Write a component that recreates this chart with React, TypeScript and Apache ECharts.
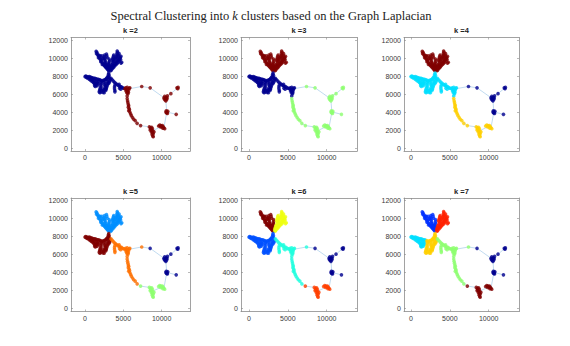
import React, { useEffect, useRef } from "react";
import * as echarts from "echarts";

// ---------------- data ----------------
const kValues = [2, 3, 4, 5, 6, 7];
const xTicks = [0, 5000, 10000];
const yTicks = [0, 2000, 4000, 6000, 8000, 10000, 12000];

type P = [number, number];

const topLeft: P[] = [
  [1450, 10750], [1550, 10650], [1500, 10500], [1650, 10450], [1700, 10300], [1800, 10200],
  [1750, 10050], [1900, 10000], [2000, 9850], [2100, 9750], [2050, 9600], [2200, 9550],
  [2300, 9450], [2250, 9300], [2400, 9300], [2500, 9200], [2600, 9100], [2700, 9000],
  [2800, 8900], [2900, 8800], [3000, 8700], [3100, 8600], [2550, 10350], [2500, 10150],
  [2600, 10000], [2550, 9850], [2650, 9700], [2600, 9550], [2700, 9450], [2750, 9300],
  [2850, 9200], [2950, 9050], [3050, 8950], [2350, 10000], [2250, 9900], [3150, 9900],
  [3200, 9700], [3100, 9550], [3150, 9400], [3050, 9300], [3150, 9150], [3200, 9000],
  [3150, 8850], [1900, 10300], [2000, 10200], [2200, 10250], [2800, 10450], [2850, 10250],
  [2900, 10050],
];

const topRight: P[] = [
  [4200, 10800], [4250, 10650], [4150, 10500], [4200, 10350], [4100, 10200], [4000, 10100],
  [3950, 9950], [3850, 9850], [3800, 9700], [3700, 9600], [3600, 9450], [3550, 9300],
  [3450, 9200], [3400, 9050], [3350, 8900], [3300, 8750], [4700, 10200], [4600, 10100],
  [4550, 9950], [4450, 9850], [4350, 9800], [4250, 9700], [4150, 9600], [4050, 9500],
  [3950, 9400], [3850, 9300], [3750, 9150], [3650, 9050], [3550, 8950], [3750, 10350],
  [3700, 10200], [3650, 10050], [3600, 9900], [3550, 9750], [4450, 10500], [4400, 10350],
  [4350, 10200], [4300, 10050], [4250, 9900], [4650, 9850], [4500, 9700], [4350, 9550],
  [4200, 9400], [4050, 9300], [3900, 9150], [3750, 9000], [3600, 8850], [3450, 8700],
  [3350, 8600], [4800, 9550], [4700, 9450],
];

const leftOuter: P[] = [
  [0, 7950], [100, 8000], [250, 7950], [400, 7900], [550, 7950], [700, 7900], [850, 7850],
  [1000, 7800], [1150, 7750], [1300, 7750], [1450, 7700], [1600, 7650], [1750, 7650],
  [1900, 7600], [300, 7800], [500, 7700], [650, 7600], [800, 7500], [950, 7400], [1100, 7300],
  [1200, 7200], [1300, 7100], [1250, 6950], [1350, 6850], [1000, 7600], [1200, 7500],
  [1400, 7450], [1550, 7350], [1650, 7250], [1750, 7150], [1500, 7150], [1450, 7000],
  [1600, 6950], [700, 7750], [900, 7650], [200, 7850], [1800, 7450],
];

const leftInner: P[] = [
  [3100, 8350], [3050, 8200], [3150, 8100], [3000, 8000], [3100, 7900], [2900, 7850],
  [2800, 7750], [2700, 7650], [2600, 7600], [2450, 7550], [2300, 7500], [2150, 7450],
  [2050, 7550], [2100, 7300], [2150, 7150], [2050, 7000], [2100, 6850], [2000, 6700],
  [1950, 6550], [1900, 6400], [1850, 6250], [1950, 6150], [2100, 6250], [2200, 6400],
  [2300, 6550], [2500, 7350], [2600, 7200], [2550, 7050], [2650, 6900], [2600, 6750],
  [2700, 6600], [2550, 6500], [2450, 6350], [2350, 6200], [2500, 6150], [2950, 7650],
  [2900, 7450], [3000, 7300], [2950, 7150], [2900, 7000], [2850, 6850], [2800, 6700],
  [2750, 6550], [2700, 6400], [3200, 7800], [3300, 7650], [3250, 7500], [3200, 7350],
  [3100, 7200],
];

const rightBranch: P[] = [
  [3400, 7750], [3550, 7600], [3700, 7450], [3850, 7300], [4000, 7200], [4150, 7100],
  [4300, 7000], [4450, 6900], [4600, 6850], [4750, 6800], [4900, 6700], [5050, 6650],
  [3900, 7000], [3850, 6800], [3850, 6600], [3900, 6400], [3900, 6250], [4450, 7100],
  [4500, 6650], [4650, 6550],
];

const junctionEnd: P[] = [
  [5200, 6600], [5300, 6700], [5400, 6500], [5350, 6350], [5500, 6400], [5600, 6550],
  [5700, 6450], [5550, 6250], [5650, 6200], [5450, 6150], [5750, 6650], [5850, 6700],
  [5500, 6750], [5600, 6050], [5500, 5800],
];

const ringLeft: P[] = [
  [5500, 5500], [5550, 5250], [5600, 5050], [5650, 4850], [5700, 4700], [5650, 4550],
  [5750, 4400], [5800, 4250], [5700, 4150], [5850, 4000], [5950, 3800], [6050, 3600],
  [6200, 3400], [6350, 3200],
];

const ringBottomLeft: P[] = [[6550, 3050], [6800, 2750]];
const ringBottomPoint: P[] = [[7250, 2500]];

const ringBottom: P[] = [
  [8400, 2350], [8550, 2250], [8700, 2300], [8600, 2100], [8800, 2150], [8700, 1950],
  [8850, 1900], [8650, 1800], [8800, 1700], [8900, 1600], [8750, 1500], [8850, 1350],
  [8900, 1250], [9000, 1800], [8500, 2000], [9600, 2450], [9750, 2550], [9900, 2500],
  [10000, 2400], [10100, 2500], [10200, 2350], [10300, 2250], [10150, 2200], [9850, 2350],
  [10400, 2150],
];

const ringTop: P[] = [[7400, 6850]];

const ringRight: P[] = [
  [8500, 6700], [10300, 5600], [10400, 5750], [10500, 5500], [10600, 5650], [10450, 5350],
  [10650, 5400], [10700, 5550], [10550, 5250], [10350, 5450], [10750, 5800], [11200, 6050],
  [12000, 6700], [12150, 6750], [12100, 6600], [10600, 4150], [10700, 4000], [10800, 4100],
  [10650, 3900], [10750, 3850], [10550, 4000], [11900, 3750],
];

// graph edges that show between the points: [x1, y1, x2, y2]
const edges: [number, number, number, number][] = [
  [5800, 6600, 7400, 6850], [7400, 6850, 8500, 6700], [8500, 6700, 10300, 5600],
  [10700, 5800, 11200, 6050], [11200, 6050, 12100, 6700], [10550, 5250, 10650, 4150],
  [10750, 4000, 11900, 3750], [10650, 3900, 10300, 2300], [10000, 2400, 9000, 2000],
  [7250, 2500, 8400, 2350], [6800, 2750, 7250, 2500], [6550, 3050, 6800, 2750],
  [6350, 3200, 6550, 3050], [5600, 6050, 5500, 5800], [5500, 5800, 5500, 5500],
  [5500, 5500, 5600, 5050], [5600, 5050, 5700, 4700], [5700, 4700, 5850, 4000],
  [5850, 4000, 6350, 3200],
];

const groupNames = [
  "topLeft", "topRight", "leftOuter", "leftInner", "rightBranch", "junctionEnd",
  "ringLeft", "ringBottomLeft", "ringBottomPoint", "ringBottom", "ringTop", "ringRight",
];
const groupPoints: Record<string, P[]> = {
  topLeft, topRight, leftOuter, leftInner, rightBranch, junctionEnd,
  ringLeft, ringBottomLeft, ringBottomPoint, ringBottom, ringTop, ringRight,
};

// cluster index of every group, for each k (same order as groupNames)
const clusterOf: Record<number, number[]> = {
  2: [0, 0, 0, 0, 0, 1, 1, 1, 1, 1, 1, 1],
  3: [2, 2, 0, 0, 0, 0, 1, 1, 1, 1, 1, 1],
  4: [3, 3, 1, 1, 1, 1, 2, 2, 2, 2, 0, 0],
  5: [1, 1, 4, 4, 3, 3, 3, 3, 2, 2, 3, 0],
  6: [5, 3, 1, 1, 2, 2, 2, 2, 4, 4, 2, 0],
  7: [1, 5, 2, 4, 3, 3, 3, 3, 6, 6, 3, 0],
};

// jet colormap colours used for each k
const palettes: Record<number, string[]> = {
  2: ["#00008F", "#800000"],
  3: ["#00008F", "#8FFF70", "#800000"],
  4: ["#00008F", "#00DFFF", "#FFCF00", "#800000"],
  5: ["#00008F", "#008FFF", "#8FFF70", "#FF7000", "#800000"],
  6: ["#00008F", "#0050FF", "#20FFDF", "#EFFF10", "#FF4000", "#800000"],
  7: ["#00008F", "#0030FF", "#00DFFF", "#8FFF70", "#FFCF00", "#FF2000", "#800000"],
};

// ---------------- layout ----------------
const colLeft = [71, 241, 404];
const colWidth = [119, 116, 115];
const colXRange = [
  [-1830, 13700],
  [-1030, 13900],
  [-900, 13900],
];
const rowTop = [37.5, 198];
const boxH = 113.5;
const yRange = [-330, 12300];

const axisColor = "#8a8a8a";
const labelColor = "#3a3a3a";

function buildOption() {
  const grid: any[] = [];
  const xAxis: any[] = [];
  const yAxis: any[] = [];
  const series: any[] = [];
  const title: any[] = [];

  title.push({
    text: "Spectral Clustering into {i|k} clusters based on the Graph Laplacian",
    left: 271,
    top: 9,
    padding: 0,
    textAlign: "center",
    textStyle: {
      fontFamily: "Liberation Serif",
      fontSize: 12.5,
      fontWeight: "normal",
      color: "#222",
      rich: {
        i: { fontFamily: "Liberation Serif", fontStyle: "italic", fontSize: 12.5, color: "#222" },
      },
    },
  });

  kValues.forEach((k, i) => {
    const c = i % 3;
    const left = colLeft[c];
    const w = colWidth[c];
    const xr = colXRange[c];
    const top = rowTop[Math.floor(i / 3)];
    grid.push({ left, top, width: w, height: boxH, outerBoundsMode: "none", containLabel: false });

    title.push({
      text: "k =" + k,
      left: left + w / 2,
      top: top - 11,
      padding: 0,
      textAlign: "center",
      textStyle: { fontFamily: "Liberation Sans", fontSize: 7.5, fontWeight: "bold", color: "#222" },
    });

    const common = {
      type: "value",
      gridIndex: i,
      splitLine: { show: false },
      axisLine: { show: true, onZero: false, lineStyle: { color: axisColor, width: 0.8 } },
    };
    const fmt = (v: number) => String(v);
    xAxis.push({
      ...common,
      position: "bottom",
      min: xr[0],
      max: xr[1],
      axisTick: { show: true, inside: true, length: 2, customValues: xTicks, lineStyle: { color: axisColor, width: 0.6 } },
      axisLabel: { show: true, customValues: xTicks, formatter: fmt, fontSize: 7, color: labelColor, margin: 3, fontFamily: "Liberation Sans" },
    });
    xAxis.push({
      ...common,
      position: "top",
      min: xr[0],
      max: xr[1],
      axisTick: { show: true, inside: true, length: 2, customValues: xTicks, lineStyle: { color: axisColor, width: 0.6 } },
      axisLabel: { show: false },
    });
    yAxis.push({
      ...common,
      position: "left",
      min: yRange[0],
      max: yRange[1],
      axisTick: { show: true, inside: true, length: 2, customValues: yTicks, lineStyle: { color: axisColor, width: 0.6 } },
      axisLabel: { show: true, customValues: yTicks, formatter: fmt, fontSize: 7, color: labelColor, margin: 3, fontFamily: "Liberation Sans" },
    });
    yAxis.push({
      ...common,
      position: "right",
      min: yRange[0],
      max: yRange[1],
      axisTick: { show: true, inside: true, length: 2, customValues: yTicks, lineStyle: { color: axisColor, width: 0.6 } },
      axisLabel: { show: false },
    });

    series.push({
      type: "lines",
      coordinateSystem: "cartesian2d",
      xAxisIndex: i * 2,
      yAxisIndex: i * 2,
      silent: true,
      z: 1,
      lineStyle: { color: "#a6cbea", width: 0.7, opacity: 1 },
      data: edges.map((e) => ({ coords: [[e[0], e[1]], [e[2], e[3]]] })),
    });

    const pal = palettes[k];
    const data: any[] = [];
    groupNames.forEach((g, gi) => {
      const color = pal[clusterOf[k][gi]];
      groupPoints[g].forEach((p) => {
        data.push({ value: p, itemStyle: { color } });
      });
    });
    series.push({
      type: "scatter",
      xAxisIndex: i * 2,
      yAxisIndex: i * 2,
      symbol: "circle",
      symbolSize: 3.6,
      silent: true,
      z: 2,
      data,
    });
  });

  return {
    animation: false,
    backgroundColor: "#ffffff",
    title,
    grid,
    xAxis,
    yAxis,
    series,
  };
}

export default function App() {
  const ref = useRef<HTMLDivElement>(null);
  useEffect(() => {
    if (!ref.current) return;
    const chart = echarts.init(ref.current, undefined, { renderer: "svg" });
    chart.setOption(buildOption() as any);
    return () => chart.dispose();
  }, []);
  return (
    <div
      ref={ref}
      style={{ position: "fixed", left: 0, top: 0, width: 570, height: 346, background: "#fff" }}
    />
  );
}
